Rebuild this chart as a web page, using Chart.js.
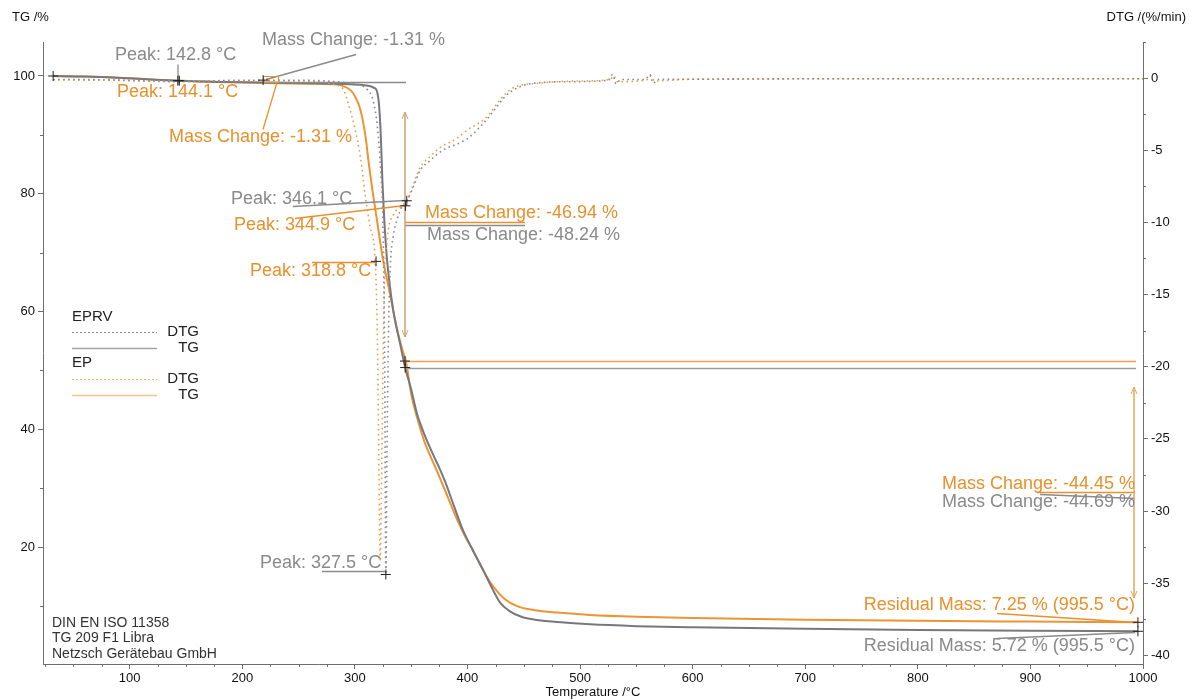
<!DOCTYPE html>
<html lang="en">
<head>
<meta charset="UTF-8">
<title>TG / DTG - EPRV vs EP</title>
<script src="https://cdn.jsdelivr.net/npm/chart.js@4.4.1/dist/chart.umd.min.js"></script>
<style>
    html, body { margin: 0; padding: 0; background: #fff; }
    canvas { display: block; }
</style>
</head>
<body>
<canvas id="tgChart" width="1194" height="700"></canvas>
<script>
    // ---- EPRV (grey) ----
    var tempTgEPRV = [32, 60, 100, 143, 180, 218, 260, 290, 305, 313, 317, 319.5, 321.5, 323, 324.5, 326, 328.5, 331, 334, 337, 340, 344.5, 350, 355, 360, 366, 373, 380, 388, 396, 405, 414, 422, 429, 437, 449, 460, 480, 509, 550, 600, 700, 800, 900, 995.5];
    var tgEPRV     = [100, 99.9, 99.6, 99.2, 99.0, 98.9, 98.75, 98.65, 98.5, 98.3, 98.0, 97.5, 95.0, 90.0, 82.0, 76.0, 69.0, 64.5, 60.3, 57.3, 54.7, 50.6, 46.8, 42.8, 40.0, 37.2, 34.3, 31.2, 27.0, 22.9, 19.4, 16.1, 13.0, 10.6, 9.2, 8.1, 7.7, 7.3, 6.9, 6.6, 6.4, 6.15, 5.95, 5.82, 5.72];

    var tempDtgEPRV = [32, 80, 143, 200, 250, 290, 305, 311, 316, 320, 323, 325, 326.5, 327.5, 328.5, 330, 331.5, 334, 337.5, 342, 346, 350, 358, 367, 378, 393, 400, 411, 420, 426, 432, 438, 450, 460, 490, 525, 529, 532, 536, 558, 562, 565, 569, 600, 700, 850, 1000];
    var dtgEPRV     = [-0.1, -0.12, -0.25, -0.15, -0.15, -0.3, -0.5, -0.8, -1.5, -3.4, -6.5, -10.3, -20, -34.4, -26, -17, -13, -11, -9.8, -8.9, -8.5, -7.9, -6.4, -5.7, -5.0, -4.5, -4.2, -3.4, -2.6, -2.0, -1.4, -0.97, -0.5, -0.35, -0.25, -0.15, 0.25, -0.4, -0.1, -0.1, 0.25, -0.35, -0.1, -0.08, -0.05, -0.05, -0.05];

    // ---- EP (orange) ----
    var tempTgEP = [32, 60, 100, 144, 180, 231, 260, 280, 287, 293, 298, 302, 305, 307, 310, 312, 316, 320.5, 325, 331, 337, 343, 345.3, 350, 356, 362, 367, 375, 383, 391, 398, 405, 413, 423, 433, 444, 460, 480, 509, 550, 600, 700, 800, 900, 995.5];
    var tgEP     = [100, 99.9, 99.6, 99.2, 99.0, 98.75, 98.7, 98.6, 98.45, 98.0, 97.2, 95.8, 94.2, 92.5, 89.0, 85.7, 80.1, 74.4, 68.8, 63.2, 57.4, 53.0, 51.6, 46.0, 41.5, 37.8, 35.5, 32.0, 28.3, 24.6, 21.8, 19.4, 16.4, 13.3, 11.2, 10.0, 9.3, 8.9, 8.5, 8.2, 8.0, 7.7, 7.5, 7.37, 7.25];

    var tempDtgEP = [32, 80, 144, 200, 250, 280, 287, 290, 295, 300, 305, 309, 313.5, 318, 320, 321.5, 322.5, 324, 326, 329, 334, 340, 344.9, 349, 358, 366, 376, 390, 400, 417, 429, 440, 464, 500, 527, 530, 533, 560, 563, 566, 600, 700, 850, 1000];
    var dtgEP     = [-0.12, -0.15, -0.22, -0.18, -0.2, -0.4, -0.6, -0.8, -2.0, -3.5, -5.5, -8.0, -10.3, -12.6, -18, -28, -33.5, -26, -15, -11, -9.5, -9.0, -8.8, -8.0, -6.2, -5.5, -4.8, -4.2, -3.6, -2.7, -1.5, -0.7, -0.35, -0.2, -0.1, 0.15, -0.25, -0.1, 0.15, -0.2, -0.08, -0.05, -0.05, -0.05];

    // ---- axes ----
    var tempTicks = [100, 200, 300, 400, 500, 600, 700, 800, 900, 1000];
    var tgTicks = [20, 40, 60, 80, 100];
    var dtgTicks = [0, -5, -10, -15, -20, -25, -30, -35, -40];

    var FONT = "'Liberation Sans', Arial, sans-serif";
    var GREY = '#8a8a8a';
    var ORANGE = '#e8912c';
    var AXIS = '#6e6e6e';

    function pts(xs, ys) {
        return xs.map(function (x, i) { return {x: x, y: ys[i]}; });
    }

    // minor tick marks between the labelled ones
    var minorTicks = {
        id: 'minorTicks',
        afterDraw: function (chart) {
            var ctx = chart.ctx, a = chart.chartArea;
            var sx = chart.scales.x, sy = chart.scales.y, sd = chart.scales.y2;
            ctx.save();
            ctx.strokeStyle = AXIS;
            ctx.lineWidth = 1;
            ctx.beginPath();
            for (var t = 25; t < 1000; t += 25) {
                if (t % 100 === 0) continue;
                var px = Math.round(sx.getPixelForValue(t)) + 0.5;
                ctx.moveTo(px, a.bottom); ctx.lineTo(px, a.bottom + 3);
            }
            for (var v = 10; v <= 100; v += 20) {
                var py = Math.round(sy.getPixelForValue(v)) + 0.5;
                ctx.moveTo(a.left, py); ctx.lineTo(a.left - 3, py);
            }
            for (var d = 2.5; d > -40; d -= 5) {
                var pd = Math.round(sd.getPixelForValue(d)) + 0.5;
                ctx.moveTo(a.right, pd); ctx.lineTo(a.right + 3, pd);
            }
            ctx.stroke();
            ctx.restore();
        }
    };

    // labels, leader lines, markers, legend
    var notes = [
        ['Peak: 142.8 °C', 115, 55, GREY, 'left'],
        ['Mass Change: -1.31 %', 262, 40, GREY, 'left'],
        ['Peak: 144.1 °C', 117, 92, ORANGE, 'left'],
        ['Mass Change: -1.31 %', 169, 137, ORANGE, 'left'],
        ['Peak: 346.1 °C', 231, 199, GREY, 'left'],
        ['Peak: 344.9 °C', 234, 225, ORANGE, 'left'],
        ['Mass Change: -46.94 %', 425, 213, ORANGE, 'left'],
        ['Mass Change: -48.24 %', 427, 235, GREY, 'left'],
        ['Peak: 318.8 °C', 250, 271, ORANGE, 'left'],
        ['Peak: 327.5 °C', 260, 563, GREY, 'left'],
        ['Mass Change: -44.45 %', 1135, 484, ORANGE, 'right'],
        ['Mass Change: -44.69 %', 1135, 502, GREY, 'right'],
        ['Residual Mass: 7.25 % (995.5 °C)', 1135, 605, ORANGE, 'right'],
        ['Residual Mass: 5.72 % (995.5 °C)', 1135, 646, GREY, 'right']
    ];
    var leaders = [
        [178, 64, 178, 84, GREY],
        [263, 82, 406, 82, GREY],
        [266, 79, 356, 54, GREY],
        [277, 82, 263, 129, ORANGE],
        [293, 206, 405, 200, GREY],
        [295, 218, 405, 205, ORANGE],
        [405, 222, 525, 222, ORANGE],
        [405, 225, 525, 225, GREY],
        [312, 262, 375, 262, ORANGE],
        [322, 571, 385, 571, GREY],
        [405, 361, 1136, 361, '#f0a050'],
        [405, 368, 1136, 368, '#9a9aa2'],
        [1037, 492, 1135, 492, ORANGE],
        [1040, 494, 1135, 498, GREY],
        [997, 613, 1135, 622, ORANGE],
        [997, 638, 1135, 632, GREY]
    ];
    var arrows = [[405, 112, 337, '#c9a27a'], [1134, 387, 598, '#e9a55a']];
    // markers placed on the curves, in data units
    var marks = [
        [32, 100, 'y'], [142.8, 99.2, 'y'], [144.1, 99.2, 'y'], [218.5, 99.3, 'y'],
        [346.1, -8.5, 'y2'], [344.9, -8.85, 'y2'], [318.8, -12.7, 'y2'], [327.5, -34.4, 'y2'],
        [344.5, 51.6, 'y'], [344.7, 50.5, 'y'], [995.5, 7.25, 'y'], [995.5, 5.72, 'y']
    ];

    function line(ctx, x1, y1, x2, y2, c) {
        ctx.strokeStyle = c;
        ctx.beginPath(); ctx.moveTo(x1, y1); ctx.lineTo(x2, y2); ctx.stroke();
    }

    var annotations = {
        id: 'annotations',
        afterDatasetsDraw: function (chart) {
            var ctx = chart.ctx, a = chart.chartArea;
            ctx.save();
            ctx.lineWidth = 1.3;
            leaders.forEach(function (l) { line(ctx, l[0], l[1] + 0.5, l[2], l[3] + 0.5, l[4]); });

            arrows.forEach(function (r) {
                ctx.lineWidth = 1.5;
                line(ctx, r[0], r[1], r[0], r[2], r[3]);
                ctx.lineWidth = 1;
                line(ctx, r[0] - 3, r[1] + 7, r[0], r[1], r[3]);
                line(ctx, r[0] + 3, r[1] + 7, r[0], r[1], r[3]);
                line(ctx, r[0] - 3, r[2] - 7, r[0], r[2], r[3]);
                line(ctx, r[0] + 3, r[2] - 7, r[0], r[2], r[3]);
            });

            ctx.strokeStyle = ORANGE;
            ctx.strokeRect(263.5, 76.5, 15, 6);

            ctx.strokeStyle = '#222';
            marks.forEach(function (m) {
                var px = chart.scales.x.getPixelForValue(m[0]);
                var py = chart.scales[m[2]].getPixelForValue(m[1]);
                ctx.beginPath();
                ctx.moveTo(px - 5, py); ctx.lineTo(px + 5, py);
                ctx.moveTo(px, py - 5); ctx.lineTo(px, py + 5);
                ctx.stroke();
            });

            ctx.font = '18px ' + FONT;
            ctx.textBaseline = 'middle';
            notes.forEach(function (n) {
                ctx.fillStyle = n[3];
                ctx.textAlign = n[4];
                ctx.fillText(n[0], n[1], n[2]);
            });

            // legend
            ctx.font = '15px ' + FONT;
            ctx.fillStyle = '#222';
            ctx.textAlign = 'left';
            ctx.fillText('EPRV', 72, 317);
            ctx.fillText('EP', 72, 363);
            ctx.textAlign = 'right';
            ctx.fillText('DTG', 199, 332);
            ctx.fillText('TG', 199, 348);
            ctx.fillText('DTG', 199, 379);
            ctx.fillText('TG', 199, 395);
            ctx.lineWidth = 1.2;
            ctx.setLineDash([2, 2]);
            line(ctx, 72, 332.5, 157, 332.5, GREY);
            line(ctx, 72, 379.5, 157, 379.5, '#e6b27a');
            ctx.setLineDash([]);
            ctx.lineWidth = 1.5;
            line(ctx, 72, 348.5, 157, 348.5, '#a5a5a5');
            line(ctx, 72, 395.5, 157, 395.5, '#f0c48e');

            // instrument note
            ctx.font = '14px ' + FONT;
            ctx.fillStyle = '#333';
            ctx.textAlign = 'left';
            ctx.fillText('DIN EN ISO 11358', 52, 623);
            ctx.fillText('TG 209 F1 Libra', 52, 638);
            ctx.fillText('Netzsch Gerätebau GmbH', 52, 654);

            // axis titles
            ctx.font = '13px ' + FONT;
            ctx.fillStyle = '#111';
            ctx.fillText('TG /%', 12, 17);
            ctx.textAlign = 'right';
            ctx.fillText('DTG /(%/min)', 1186, 17);
            ctx.textAlign = 'center';
            ctx.fillText('Temperature /°C', (a.left + a.right) / 2, 692);
            ctx.restore();
        }
    };

    var tickFont = {family: FONT, size: 13};
    var axisGrid = {drawOnChartArea: false, drawTicks: true, tickLength: 5, color: AXIS};
    var axisBorder = {display: true, color: AXIS, width: 1};

    var ctx = document.getElementById('tgChart').getContext('2d');
    var tgChart = new Chart(ctx, {
        type: 'line',
        data: {
            datasets: [
                {label: 'EPRV DTG', data: pts(tempDtgEPRV, dtgEPRV), yAxisID: 'y2',
                    borderColor: '#8c8c8c', borderWidth: 1.6, borderDash: [1.6, 3.4],
                    pointRadius: 0, cubicInterpolationMode: 'monotone'},
                {label: 'EP DTG', data: pts(tempDtgEP, dtgEP), yAxisID: 'y2',
                    borderColor: '#e6a055', borderWidth: 1.6, borderDash: [1.6, 3.4],
                    pointRadius: 0, cubicInterpolationMode: 'monotone'},
                {label: 'EPRV TG', data: pts(tempTgEPRV, tgEPRV), yAxisID: 'y',
                    borderColor: '#77777f', borderWidth: 2,
                    pointRadius: 0, cubicInterpolationMode: 'monotone'},
                {label: 'EP TG', data: pts(tempTgEP, tgEP), yAxisID: 'y',
                    borderColor: '#ec9433', borderWidth: 2,
                    pointRadius: 0, cubicInterpolationMode: 'monotone'}
            ]
        },
        options: {
            responsive: false,
            animation: false,
            devicePixelRatio: 1,
            layout: {padding: {top: 42, left: 0, right: 0, bottom: 0}},
            plugins: {legend: {display: false}, tooltip: {enabled: false}},
            scales: {
                x: {
                    type: 'linear', min: 23, max: 1000,
                    afterBuildTicks: function (s) { s.ticks = tempTicks.map(function (v) { return {value: v}; }); },
                    afterFit: function (s) { s.height = 36; },
                    ticks: {font: tickFont, color: '#111', padding: 2, maxRotation: 0, autoSkip: false,
                        callback: function (v) { return String(v); }},
                    grid: axisGrid, border: axisBorder
                },
                y: {
                    position: 'left', min: 0.17, max: 105.77,
                    afterBuildTicks: function (s) { s.ticks = tgTicks.map(function (v) { return {value: v}; }); },
                    afterFit: function (s) { s.width = 43; },
                    ticks: {font: tickFont, color: '#111', padding: 3,
                        callback: function (v) { return String(v); }},
                    grid: axisGrid, border: axisBorder
                },
                y2: {
                    position: 'right', min: -40.6, max: 2.5,
                    afterBuildTicks: function (s) { s.ticks = dtgTicks.map(function (v) { return {value: v}; }); },
                    afterFit: function (s) { s.width = 51; },
                    ticks: {font: tickFont, color: '#111', padding: 3,
                        callback: function (v) { return String(v); }},
                    grid: axisGrid, border: axisBorder
                }
            }
        },
        plugins: [minorTicks, annotations]
    });
</script>
</body>
</html>
